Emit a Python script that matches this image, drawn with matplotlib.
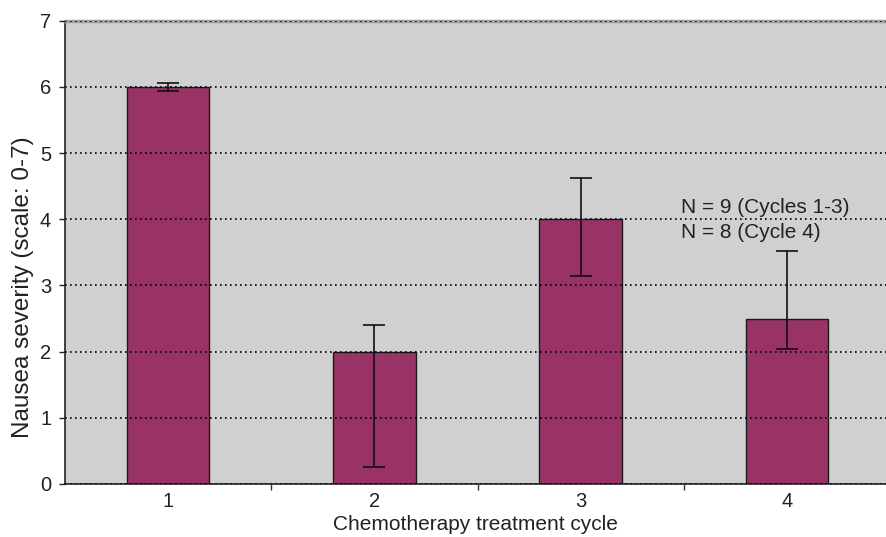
import matplotlib
matplotlib.use("Agg")
import matplotlib.pyplot as plt

plt.rcParams['font.family'] = ['Liberation Sans', 'DejaVu Sans']

cycles = [1, 2, 3, 4]
cycle_labels = ['1', '2', '3', '4']
severity = [6.0, 2.0, 4.0, 2.5]
err_low = [0.06, 1.75, 0.85, 0.46]
err_high = [0.06, 0.40, 0.63, 1.02]
note_lines = ['N = 9 (Cycles 1-3)', 'N = 8 (Cycle 4)']

fig = plt.figure(figsize=(8.86, 5.37), dpi=100)
ax = fig.add_axes([0.0734, 0.0987, 0.9266, 0.8628])
ax.set_facecolor('#d0d0d0')

ax.bar(cycles, severity, width=0.4, color='#993366', edgecolor='#1a1a1a',
       linewidth=1.0, zorder=1)
ax.set_axisbelow(False)
ax.yaxis.grid(True, color='black', linestyle=(0, (1, 2)), linewidth=1.2, zorder=2)
ax.errorbar(cycles, severity, yerr=[err_low, err_high], fmt='none',
            ecolor='#111111', elinewidth=1.2, capsize=8, capthick=1.2, zorder=3)

ax.set_xlim(0.5, 4.48)
ax.set_ylim(0, 7)
ax.set_yticks(range(0, 8))
ax.set_xticks(cycles)
ax.set_xticklabels(cycle_labels)
ax.set_xticks([1.5, 2.5, 3.5], minor=True)
ax.tick_params(axis='x', which='major', length=0, pad=6, labelsize=14.5, colors='#222222')
ax.tick_params(axis='x', which='minor', length=4, width=1, direction='out', color='#333333')
ax.tick_params(axis='y', length=4, width=1, pad=6, labelsize=14.5, colors='#222222')

for side in ['left', 'bottom']:
    ax.spines[side].set_color('#222222')
    ax.spines[side].set_linewidth(1.2)
ax.spines['right'].set_visible(False)
ax.spines['top'].set_color('#a0a0a0')
ax.spines['top'].set_linewidth(2.5)

ax.text(3.485, 4.18, note_lines[0], fontsize=15, color='#222222', va='center', ha='left')
ax.text(3.485, 3.80, note_lines[1], fontsize=15, color='#222222', va='center', ha='left')

ax.set_xlabel('Chemotherapy treatment cycle', fontsize=15, color='#222222', labelpad=2.5)
ax.set_ylabel('Nausea severity (scale: 0-7)', fontsize=17.5, color='#222222')
ax.yaxis.set_label_coords(-0.038, 0.425)

fig.savefig('out.png', dpi=100)
